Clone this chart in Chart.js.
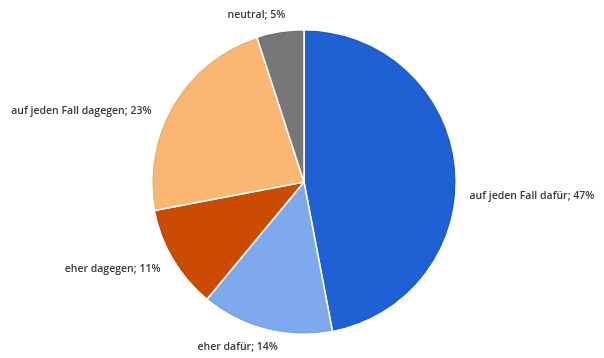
<!DOCTYPE html>
<html>
<head>
<meta charset="utf-8">
<script src="https://cdn.jsdelivr.net/npm/chart.js@4"></script>
<style>
  html, body { margin: 0; padding: 0; background: #fff; }
  #wrap { width: 604px; height: 358px; }
</style>
</head>
<body>
<div id="wrap"><canvas id="pieChart" width="604" height="358"></canvas></div>
<script>
// Daten
const categories = ['auf jeden Fall dafür', 'eher dafür', 'eher dagegen', 'auf jeden Fall dagegen', 'neutral'];
const shares = [47, 14, 11, 23, 5];
const sliceColors = ['#1f61d4', '#7ea9ec', '#cc4b02', '#fab672', '#767676'];
const rimColors = ['#1a4fb0', '#6f97d6', '#a83e02', '#e3a566', '#666666'];

// kleine Verschiebungen der Beschriftung (wie Excel "beste Anpassung")
const labelNudge = [[-4, 30], [-24, 0], [3, 0], [-6, 16], [-21, 1]];

// leicht dunklerer Rand wie im Original
function sliceFill(c) {
    const i = c.dataIndex;
    const area = c.chart.chartArea;
    if (!area) return sliceColors[i];
    const cx = (area.left + area.right) / 2;
    const cy = (area.top + area.bottom) / 2;
    const r = Math.min(area.right - area.left, area.bottom - area.top) / 2;
    const g = c.chart.ctx.createRadialGradient(cx, cy, 0, cx, cy, r);
    g.addColorStop(0, sliceColors[i]);
    g.addColorStop(0.975, sliceColors[i]);
    g.addColorStop(1, rimColors[i]);
    return g;
}

const sliceLabels = {
    id: 'sliceLabels',
    afterDatasetsDraw(chart) {
        const ctx = chart.ctx;
        const meta = chart.getDatasetMeta(0);
        ctx.save();
        ctx.font = '600 10.5px "Open Sans"';
        ctx.fillStyle = '#383838';
        ctx.textBaseline = 'middle';
        meta.data.forEach((arc, i) => {
            const p = arc.getProps(['x', 'y', 'startAngle', 'endAngle', 'outerRadius']);
            const mid = (p.startAngle + p.endAngle) / 2;
            const r = p.outerRadius + 18;
            const c = Math.cos(mid);
            let x = p.x + c * r + labelNudge[i][0];
            let y = p.y + Math.sin(mid) * r + labelNudge[i][1];
            ctx.textAlign = c > 0.3 ? 'left' : (c < -0.3 ? 'right' : 'center');
            ctx.fillText(categories[i] + '; ' + shares[i] + '%', x, y);
        });
        ctx.restore();
    }
};

const ctx = document.getElementById('pieChart').getContext('2d');
new Chart(ctx, {
    type: 'pie',
    data: {
        labels: categories,
        datasets: [{
            data: shares,
            backgroundColor: sliceFill,
            borderColor: '#ffffff',
            borderWidth: 1.5
        }]
    },
    options: {
        responsive: false,
        animation: false,
        layout: { padding: { top: 29, bottom: 23, left: 4, right: 0 } },
        plugins: {
            legend: { display: false },
            tooltip: { enabled: false }
        }
    },
    plugins: [sliceLabels]
});
</script>
</body>
</html>
